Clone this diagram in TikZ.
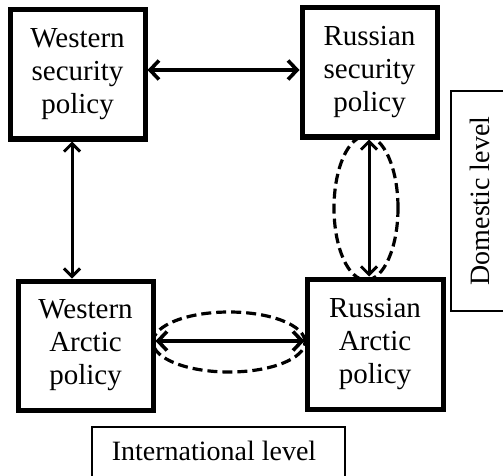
\documentclass[tikz,border=0pt]{standalone}
\usepackage{fontspec}
\setmainfont{Liberation Serif}
\usetikzlibrary{arrows.meta,shapes.geometric}
\tikzset{
  policybox/.style={draw, line width=5pt, minimum width=135pt, minimum height=129pt,
    align=center, inner sep=0pt, font=\fontsize{29}{33}\selectfont},
  levelbox/.style={draw, line width=1.4pt, inner sep=0pt, font=\fontsize{28}{33}\selectfont},
  hlink/.style={line width=3.8pt, {Straight Barb[length=9pt,width=19pt,line width=3.6pt]}-{Straight Barb[length=9pt,width=19pt,line width=3.6pt]}},
  vlink/.style={line width=3pt, {Straight Barb[length=8pt,width=16pt,line width=3pt]}-{Straight Barb[length=8pt,width=16pt,line width=3pt]}},
  loopring/.style={draw, line width=3.2pt, dash pattern=on 10pt off 5pt}
}
\begin{document}
\begin{tikzpicture}[x=1pt,y=-1pt]
\useasboundingbox (0,0) rectangle (503,476);
\node[policybox] (ws) at (77.5,74.5) {Western\\security\\policy};
\node[policybox] (rs) at (369.5,72.5) {Russian\\security\\policy};
\node[policybox] (wa) at (85.5,345.5) {Western\\Arctic\\policy};
\node[policybox, minimum width=136pt, minimum height=130pt] (ra) at (375,344) {Russian\\Arctic\\policy};
\node[levelbox, minimum width=220pt, minimum height=58pt, rotate=90] (dom) at (480,201) {Domestic level};
\node[levelbox, minimum width=253pt, minimum height=60pt] (intl) at (218.5,457) {};
\node[font=\fontsize{28}{33}\selectfont, inner sep=0pt] (intltext) at (214,451) {International level};
\coordinate (lx) at (72,0);
\coordinate (rx) at (369,0);
\coordinate (ty) at (0,70);
\coordinate (by) at (0,341);
\draw[hlink] (ws.east |- ty) -- (rs.west |- ty);
\draw[vlink] (ws.south -| lx) -- (wa.north -| lx);
\draw[vlink] (rs.south -| rx) -- (ra.north -| rx);
\draw[hlink] (wa.east |- by) -- (ra.west |- by);
\node[loopring, ellipse, minimum width=64pt, minimum height=144pt, inner sep=0pt] (vring) at (366,208) {};
\node[loopring, ellipse, minimum width=152pt, minimum height=60pt, inner sep=0pt] (hring) at (229,342) {};
\end{tikzpicture}
\end{document}
